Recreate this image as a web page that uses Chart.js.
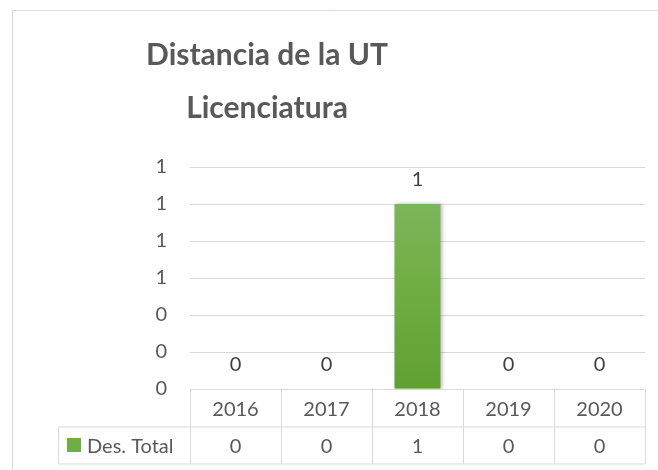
<!DOCTYPE html>
<html>
<head>
<meta charset="utf-8">
<script src="https://cdn.jsdelivr.net/npm/chart.js@4.4.1/dist/chart.umd.min.js"></script>
<style>
  html, body { margin: 0; padding: 0; background: #ffffff; }
  #wrap { position: relative; width: 658px; height: 470px; }
</style>
</head>
<body>
<div id="wrap"><canvas id="c" width="658" height="470"></canvas></div>
<script>
// ---- data ----
const titleLines = ["Distancia de la UT", "Licenciatura"];
const categories = ["2016", "2017", "2018", "2019", "2020"];
const seriesName = "Des. Total";
const seriesValues = [0, 0, 1, 0, 0];
const yMin = 0, yMax = 1.2, yStep = 0.2;

const GRID = "#d9d9d9";
const TEXT = "#595959";
const FONT = "Lato, 'Open Sans', sans-serif";

function makeChart() {
  const ctx = document.getElementById("c").getContext("2d");

  const framePlugin = {
    id: "frame",
    beforeDraw(chart) {
      const c = chart.ctx;
      c.save();
      c.strokeStyle = GRID;
      c.lineWidth = 1;
      c.beginPath();
      c.moveTo(12.5, 470);
      c.lineTo(12.5, 10.5);
      c.lineTo(658, 10.5);
      c.stroke();
      // title
      c.fillStyle = TEXT;
      c.font = "bold 30px " + FONT;
      c.textAlign = "center";
      c.textBaseline = "alphabetic";
      c.fillText(titleLines[0], 267, 65);
      c.fillText(titleLines[1], 267, 118);
      c.restore();
    }
  };

  const shadowPlugin = {
    id: "barShadow",
    beforeDatasetsDraw(chart) {
      const c = chart.ctx;
      c.save();
      c.shadowColor = "rgba(0,0,0,0.28)";
      c.shadowBlur = 4;
      c.shadowOffsetX = 1.5;
      c.shadowOffsetY = 0;
    },
    afterDatasetsDraw(chart) {
      chart.ctx.restore();
    }
  };

  const labelPlugin = {
    id: "valueLabels",
    afterDatasetsDraw(chart) {
      const c = chart.ctx;
      const meta = chart.getDatasetMeta(0);
      c.save();
      c.fillStyle = "#404040";
      c.font = "20px " + FONT;
      c.textAlign = "center";
      c.textBaseline = "middle";
      meta.data.forEach((bar, i) => {
        c.fillText(String(seriesValues[i]), bar.x, bar.y - 24);
      });
      c.restore();
    }
  };

  const tablePlugin = {
    id: "dataTable",
    afterDraw(chart) {
      const c = chart.ctx;
      const area = chart.chartArea;
      const xs = chart.scales.x;
      const n = categories.length;
      const w = (area.right - area.left) / n;
      const top = Math.round(area.bottom) + 0.5;
      const mid = top + 37.5;
      const bot = mid + 37;
      const legLeft = 58.5;
      c.save();
      c.strokeStyle = GRID;
      c.lineWidth = 1;
      c.beginPath();
      c.moveTo(area.left, top); c.lineTo(area.right, top);
      c.moveTo(legLeft, mid); c.lineTo(area.right, mid);
      c.moveTo(legLeft, bot); c.lineTo(area.right, bot);
      for (let i = 0; i <= n; i++) {
        const x = Math.round(area.left + i * w) + 0.5;
        c.moveTo(x, top); c.lineTo(x, bot);
      }
      c.moveTo(legLeft, mid); c.lineTo(legLeft, bot);
      c.stroke();

      c.fillStyle = TEXT;
      c.font = "20px " + FONT;
      c.textAlign = "center";
      c.textBaseline = "middle";
      categories.forEach((cat, i) => {
        const x = xs.getPixelForValue(i);
        c.fillText(cat, x, (top + mid) / 2 + 1);
        c.fillText(String(seriesValues[i]), x, (mid + bot) / 2 + 1);
      });
      // legend key
      c.fillStyle = "#70ad47";
      c.fillRect(67, 438, 14, 14);
      c.fillStyle = TEXT;
      c.textAlign = "left";
      c.fillText(seriesName, 87, (mid + bot) / 2 + 1);
      c.restore();
    }
  };

  new Chart(ctx, {
    type: "bar",
    data: {
      labels: categories,
      datasets: [{
        label: seriesName,
        data: seriesValues,
        backgroundColor(context) {
          const chart = context.chart;
          const a = chart.chartArea;
          if (!a) return "#70ad47";
          const g = chart.ctx.createLinearGradient(0, a.top, 0, a.bottom);
          g.addColorStop(0, "#82b865");
          g.addColorStop(0.5, "#72ae46");
          g.addColorStop(1, "#60a031");
          return g;
        },
        borderWidth: 0,
        categoryPercentage: 1,
        barPercentage: 0.505
      }]
    },
    options: {
      responsive: false,
      animation: false,
      devicePixelRatio: 1,
      layout: { padding: { left: 0, right: 13, top: 167, bottom: 81 } },
      plugins: {
        legend: { display: false },
        title: { display: false },
        tooltip: { enabled: false }
      },
      scales: {
        x: {
          display: false,
          grid: { display: false }
        },
        y: {
          min: yMin,
          max: yMax,
          border: { display: false },
          grid: { color: GRID, lineWidth: 1, drawTicks: false },
          afterFit(scale) { scale.width = 190; },
          ticks: {
            stepSize: yStep,
            padding: 23,
            color: TEXT,
            font: { family: FONT, size: 20 },
            callback: (v) => String(Math.round(v))
          }
        }
      }
    },
    plugins: [framePlugin, shadowPlugin, labelPlugin, tablePlugin]
  });
}

const loads = [
  document.fonts.load("20px Lato"),
  document.fonts.load("bold 30px Lato")
];
Promise.all(loads).then(makeChart, makeChart);
</script>
</body>
</html>
